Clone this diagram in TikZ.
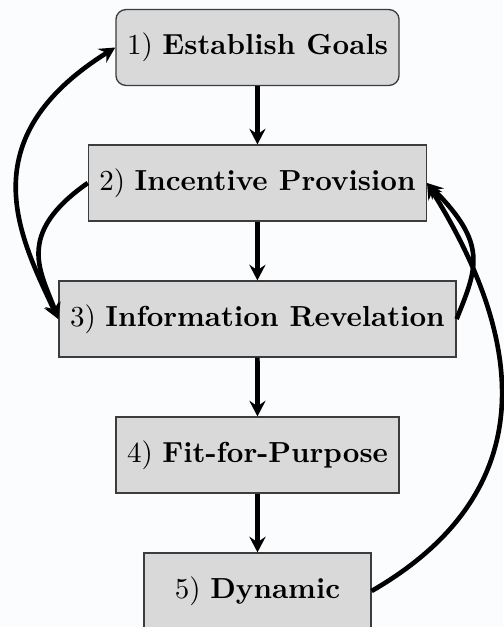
\documentclass[tikz,border=0pt]{standalone}
\usetikzlibrary{arrows.meta}
\definecolor{bgc}{RGB}{251,252,254}
\definecolor{boxfill}{RGB}{217,217,217}
\definecolor{boxline}{RGB}{60,60,60}
\begin{document}
\begin{tikzpicture}[x=0.345pt,y=0.345pt,
  stage/.style={draw=boxline, fill=boxfill, line width=0.45pt, minimum height=26.2pt, inner xsep=0pt, inner ysep=0pt, font=\normalsize},
  flow/.style={line width=1.6pt, -{Stealth[length=5.4pt,width=5.6pt,inset=1.9pt]}},
  dflow/.style={line width=1.6pt, {Stealth[length=5.4pt,width=5.6pt,inset=1.9pt]}-{Stealth[length=5.4pt,width=5.6pt,inset=1.9pt]}}]
\fill[bgc] (0,0) rectangle (503,-627);
\useasboundingbox (0,0) rectangle (503,-627);
\node[stage, rounded corners=3.5pt, minimum width=97.7pt] (b1) at (257.5,-47.5) {1) \textbf{Establish Goals}};
\node[stage, minimum width=116.6pt] (b2) at (257.4,-183) {2) \textbf{Incentive Provision}};
\node[stage, minimum width=137pt] (b3) at (257.4,-319) {3) \textbf{Information Revelation}};
\node[stage, minimum width=97.7pt] (b4) at (257.5,-455) {4) \textbf{Fit-for-Purpose}};
\node[stage, minimum width=78.3pt] (b5) at (257.5,-591) {5) \textbf{Dynamic}};
\draw[flow] (b1) -- (b2);
\draw[flow] (b2) -- (b3);
\draw[flow] (b3) -- (b4);
\draw[flow] (b4) -- (b5);
\draw[dflow] (b1.west) to[out=212, in=115, out distance=60pt, in distance=31pt] (b3.west);
\draw[flow] (b2.west) to[out=215, in=110, out distance=31pt, in distance=17.3pt] (b3.west);
\draw[flow] (b3.east) to[out=68, in=-45, out distance=19.1pt, in distance=29.7pt] (b2.east);
\draw[flow] (b5.east) to[out=30, in=-58, out distance=78.3pt, in distance=49.4pt] (b2.east);
\end{tikzpicture}
\end{document}
